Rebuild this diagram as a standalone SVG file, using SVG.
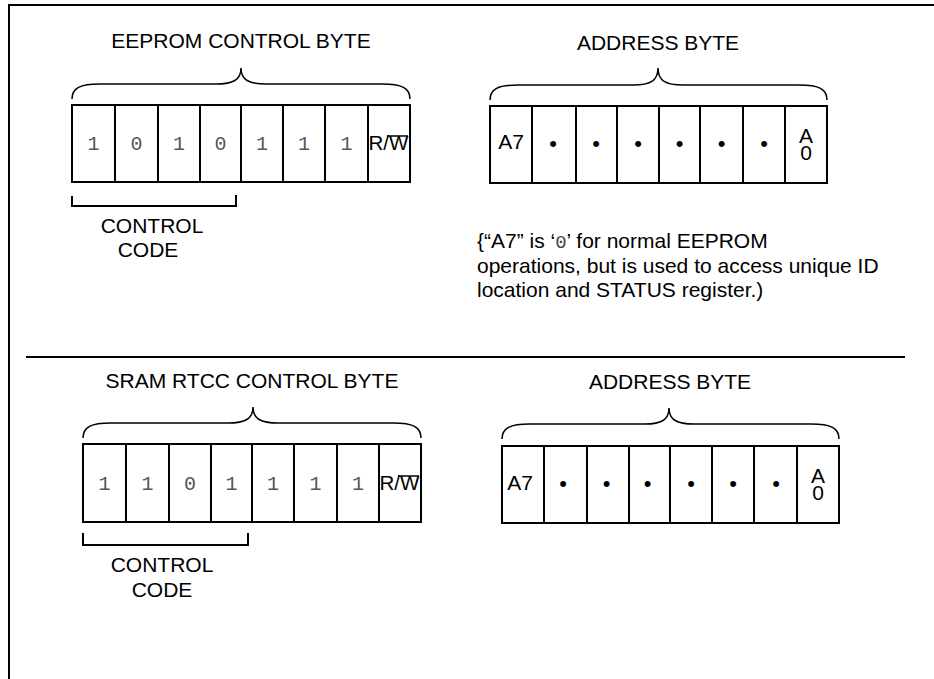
<svg xmlns="http://www.w3.org/2000/svg" width="934" height="679" viewBox="0 0 934 679">
<style>
.t{font-family:"Liberation Sans",Arial,sans-serif;font-size:21px;fill:#000}
.c{text-anchor:middle}
.m{font-family:"Liberation Mono","Courier New",monospace;font-size:20px;fill:#555;text-anchor:middle}
.cell{fill:#fff;stroke:#000;stroke-width:2}
.brace{fill:none;stroke:#000;stroke-width:1.5}
.ln{stroke:#000;stroke-width:2;fill:none}
.dot{font-family:"Liberation Sans",Arial,sans-serif;font-size:22px;text-anchor:middle;fill:#000}
</style>
<rect x="0" y="0" width="934" height="679" fill="#fff"/>
<g id="frame">
<path class="ln" d="M9,679 V5 H934"/>
<line class="ln" x1="26" y1="357" x2="905" y2="357"/>
</g>

<g id="eeprom-control-byte">
<text class="t c" x="241" y="48">EEPROM CONTROL BYTE</text>
<path class="brace" d="M72,99 C72,88 80,84 100,84 L216,84 C233,84 241,80 241,68 C241,80 249,84 266,84 L382,84 C402,84 410,88 410,99"/>
<rect class="cell" x="72" y="105" width="43" height="77"/>
<rect class="cell" x="115" y="105" width="43" height="77"/>
<rect class="cell" x="158" y="105" width="42" height="77"/>
<rect class="cell" x="200" y="105" width="41" height="77"/>
<rect class="cell" x="241" y="105" width="42" height="77"/>
<rect class="cell" x="283" y="105" width="42" height="77"/>
<rect class="cell" x="325" y="105" width="43" height="77"/>
<rect class="cell" x="368" y="105" width="42" height="77"/>
<text class="m" x="93.5" y="150">1</text>
<text class="m" x="136.5" y="150">0</text>
<text class="m" x="179" y="150">1</text>
<text class="m" x="220.5" y="150">0</text>
<text class="m" x="262" y="150">1</text>
<text class="m" x="304" y="150">1</text>
<text class="m" x="346.5" y="150">1</text>
<text class="t" x="368.5" y="150" textLength="40" lengthAdjust="spacingAndGlyphs">R/W</text>
<line x1="387" y1="136" x2="408" y2="136" stroke="#000" stroke-width="1.5"/>
<path class="ln" d="M72,196 V206 H236 V195"/>
<text class="t c" x="152" y="233">CONTROL</text>
<text class="t c" x="148" y="257">CODE</text>
</g>

<g id="eeprom-address-byte">
<text class="t c" x="658" y="50">ADDRESS BYTE</text>
<path class="brace" d="M490,100 C490,89 498,85 518,85 L633,85 C650,85 658,81 658,68 C658,81 666,85 683,85 L799,85 C819,85 827,89 827,100"/>
<rect class="cell" x="490" y="106" width="42" height="77"/>
<rect class="cell" x="532" y="106" width="44" height="77"/>
<rect class="cell" x="576" y="106" width="41" height="77"/>
<rect class="cell" x="617" y="106" width="42" height="77"/>
<rect class="cell" x="659" y="106" width="41" height="77"/>
<rect class="cell" x="700" y="106" width="43" height="77"/>
<rect class="cell" x="743" y="106" width="42" height="77"/>
<rect class="cell" x="785" y="106" width="42" height="77"/>
<text class="t c" x="511" y="149">A7</text>
<text class="dot" x="553" y="151">•</text>
<text class="dot" x="596" y="151">•</text>
<text class="dot" x="638" y="151">•</text>
<text class="dot" x="679.5" y="151">•</text>
<text class="dot" x="721.5" y="151">•</text>
<text class="dot" x="764" y="151">•</text>
<text class="t c" x="806" y="143">A<tspan x="806" dy="17">0</tspan></text>
</g>

<g id="note">
<text class="t" x="477" y="248">{“A7” is ‘<tspan style="font-family:'Liberation Mono','Courier New',monospace;font-size:19px;fill:#444">0</tspan>’ for normal EEPROM</text>
<text class="t" x="477" y="273">operations, but is used to access unique ID</text>
<text class="t" x="477" y="297">location and STATUS register.)</text>
</g>

<g id="sram-rtcc-control-byte">
<text class="t c" x="252" y="388">SRAM RTCC CONTROL BYTE</text>
<path class="brace" d="M83,438 C83,427 91,423 111,423 L228,423 C245,423 253,419 253,407 C253,419 261,423 278,423 L393,423 C413,423 421,427 421,438"/>
<rect class="cell" x="83" y="444" width="43" height="78"/>
<rect class="cell" x="126" y="444" width="43" height="78"/>
<rect class="cell" x="169" y="444" width="42" height="78"/>
<rect class="cell" x="211" y="444" width="41" height="78"/>
<rect class="cell" x="252" y="444" width="42" height="78"/>
<rect class="cell" x="294" y="444" width="43" height="78"/>
<rect class="cell" x="337" y="444" width="42" height="78"/>
<rect class="cell" x="379" y="444" width="42" height="78"/>
<text class="m" x="104.5" y="490">1</text>
<text class="m" x="147.5" y="490">1</text>
<text class="m" x="190" y="490">0</text>
<text class="m" x="231.5" y="490">1</text>
<text class="m" x="273" y="490">1</text>
<text class="m" x="315.5" y="490">1</text>
<text class="m" x="358" y="490">1</text>
<text class="t" x="379.5" y="490" textLength="40" lengthAdjust="spacingAndGlyphs">R/W</text>
<line x1="398" y1="476" x2="419" y2="476" stroke="#000" stroke-width="1.5"/>
<path class="ln" d="M83,533 V545 H248 V533"/>
<text class="t c" x="162" y="572">CONTROL</text>
<text class="t c" x="162" y="597">CODE</text>
</g>

<g id="sram-address-byte">
<text class="t c" x="670" y="389">ADDRESS BYTE</text>
<path class="brace" d="M502,439 C502,428 510,424 530,424 L645,424 C661,424 669,420 669,408 C669,420 677,424 694,424 L811,424 C831,424 839,428 839,439"/>
<rect class="cell" x="502" y="446" width="42" height="77"/>
<rect class="cell" x="544" y="446" width="43" height="77"/>
<rect class="cell" x="587" y="446" width="42" height="77"/>
<rect class="cell" x="629" y="446" width="41" height="77"/>
<rect class="cell" x="670" y="446" width="42" height="77"/>
<rect class="cell" x="712" y="446" width="42" height="77"/>
<rect class="cell" x="754" y="446" width="43" height="77"/>
<rect class="cell" x="797" y="446" width="42" height="77"/>
<text class="t c" x="520" y="490">A7</text>
<text class="dot" x="563" y="491">•</text>
<text class="dot" x="606.5" y="491">•</text>
<text class="dot" x="647.5" y="491">•</text>
<text class="dot" x="691" y="491">•</text>
<text class="dot" x="733" y="491">•</text>
<text class="dot" x="776" y="491">•</text>
<text class="t c" x="818" y="483">A<tspan x="818" dy="17">0</tspan></text>
</g>
</svg>
